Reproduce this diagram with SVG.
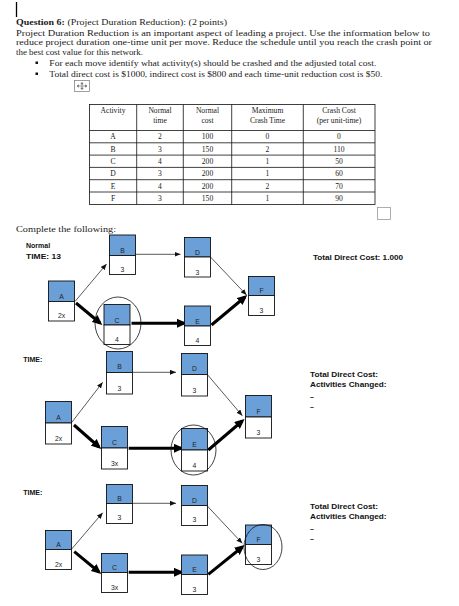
<svg xmlns="http://www.w3.org/2000/svg" width="459" height="606" viewBox="0 0 459 606">
<style>
.body{font-family:"Liberation Serif","DejaVu Serif",serif;font-size:9.2px;fill:#1a1a1a}
.tb{font-family:"Liberation Serif","DejaVu Serif",serif;font-size:7.6px;fill:#1a1a1a;text-anchor:middle}
.grid{stroke:#111;stroke-width:0.8;fill:none}
.top{fill:#6b9fd7;stroke:#111;stroke-width:0.9}
.bot{fill:#fff;stroke:#111;stroke-width:0.9}
.lbl{font-family:"Liberation Sans",Arial,sans-serif;font-size:6.8px;fill:#222;text-anchor:middle}
.side{font-family:"Liberation Sans",Arial,sans-serif;font-size:7px;font-weight:bold;fill:#111}
.thin{stroke:#111;stroke-width:0.7;fill:none;marker-end:url(#ah)}
.thick{stroke:#000;stroke-width:3;fill:none;marker-end:url(#ahb)}
.ring{fill:none;stroke:#111;stroke-width:0.8}
</style>
<defs>
<marker id="ah" markerUnits="userSpaceOnUse" markerWidth="6" markerHeight="5" refX="6" refY="2.5" orient="auto"><path d="M0,0 L6,2.5 L0,5 z" fill="#111"/></marker>
<marker id="ahb" markerUnits="userSpaceOnUse" markerWidth="10" markerHeight="9" refX="7" refY="4.5" orient="auto"><path d="M0,0 L10,4.5 L0,9 z" fill="#000"/></marker>
</defs>
<rect width="459" height="606" fill="#fff"/>

<!-- header text -->
<line x1="16.5" y1="2" x2="16.5" y2="17" stroke="#000" stroke-width="1.3"/>
<text class="body" x="16" y="24.5" textLength="211" lengthAdjust="spacingAndGlyphs"><tspan font-weight="bold">Question 6:</tspan> (Project Duration Reduction): (2 points)</text>
<text class="body" x="16" y="35.5" textLength="414" lengthAdjust="spacingAndGlyphs">Project Duration Reduction is an important aspect of leading a project. Use the information below to</text>
<text class="body" x="16" y="45.3" textLength="416" lengthAdjust="spacingAndGlyphs">reduce project duration one-time unit per move. Reduce the schedule until you reach the crash point or</text>
<text class="body" x="16" y="55" textLength="127" lengthAdjust="spacingAndGlyphs">the best cost value for this network.</text>
<rect x="35.5" y="61.5" width="2.5" height="2.5" fill="#111"/>
<text class="body" x="49.3" y="65.8" textLength="327" lengthAdjust="spacingAndGlyphs">For each move identify what activity(s) should be crashed and the adjusted total cost.</text>
<rect x="35.5" y="72.5" width="2.5" height="2.5" fill="#111"/>
<text class="body" x="49.3" y="76.8" textLength="333" lengthAdjust="spacingAndGlyphs">Total direct cost is $1000, indirect cost is $800 and each time-unit reduction cost is $50.</text>
<g id="move-icon" stroke="#777" stroke-width="0.7" fill="none">
<rect x="74.5" y="80.5" width="15" height="11" fill="#fff"/>
<path d="M77,86 H87 M82,82.5 V89.5"/>
<path d="M77,86 l1.5,-1.2 v2.4 z M87,86 l-1.5,-1.2 v2.4 z M82,82.5 l-1.2,1.5 h2.4 z M82,89.5 l-1.2,-1.5 h2.4 z" fill="#777"/>
</g>

<!-- table -->
<g id="table">
<rect class="grid" x="89.5" y="104.5" width="285.5" height="100"/>
<path class="grid" d="M136.7,104.5 V204.5 M183.3,104.5 V204.5 M231.7,104.5 V204.5 M303.3,104.5 V204.5 M89.5,130.5 H375 M89.5,142.8 H375 M89.5,155.1 H375 M89.5,167.4 H375 M89.5,179.7 H375 M89.5,192 H375"/>
<text class="tb" x="113" y="112.8">Activity</text>
<text class="tb" x="160" y="112.8">Normal</text><text class="tb" x="160" y="123.3">time</text>
<text class="tb" x="207.5" y="112.8">Normal</text><text class="tb" x="207.5" y="123.3">cost</text>
<text class="tb" x="267.5" y="112.8">Maximum</text><text class="tb" x="267.5" y="123.3">Crash Time</text>
<text class="tb" x="339" y="112.8">Crash Cost</text><text class="tb" x="339" y="123.3">(per unit-time)</text>
<g>
<text class="tb" x="113" y="139.3">A</text><text class="tb" x="160" y="139.3">2</text><text class="tb" x="207.5" y="139.3">100</text><text class="tb" x="267.5" y="139.3">0</text><text class="tb" x="339" y="139.3">0</text>
<text class="tb" x="113" y="151.6">B</text><text class="tb" x="160" y="151.6">3</text><text class="tb" x="207.5" y="151.6">150</text><text class="tb" x="267.5" y="151.6">2</text><text class="tb" x="339" y="151.6">110</text>
<text class="tb" x="113" y="163.9">C</text><text class="tb" x="160" y="163.9">4</text><text class="tb" x="207.5" y="163.9">200</text><text class="tb" x="267.5" y="163.9">1</text><text class="tb" x="339" y="163.9">50</text>
<text class="tb" x="113" y="176.2">D</text><text class="tb" x="160" y="176.2">3</text><text class="tb" x="207.5" y="176.2">200</text><text class="tb" x="267.5" y="176.2">1</text><text class="tb" x="339" y="176.2">60</text>
<text class="tb" x="113" y="188.5">E</text><text class="tb" x="160" y="188.5">4</text><text class="tb" x="207.5" y="188.5">200</text><text class="tb" x="267.5" y="188.5">2</text><text class="tb" x="339" y="188.5">70</text>
<text class="tb" x="113" y="200.8">F</text><text class="tb" x="160" y="200.8">3</text><text class="tb" x="207.5" y="200.8">150</text><text class="tb" x="267.5" y="200.8">1</text><text class="tb" x="339" y="200.8">90</text>
</g>
</g>
<rect x="377.5" y="207.5" width="13" height="12" fill="#fff" stroke="#999" stroke-width="0.8"/>

<text class="body" x="16" y="231.5" textLength="100" lengthAdjust="spacingAndGlyphs">Complete the following:</text>

<!-- ===== Network 1 ===== -->
<text class="side" x="26" y="248">Normal</text>
<text class="side" x="26" y="259" textLength="35" lengthAdjust="spacingAndGlyphs">TIME:  13</text>
<text class="side" x="313" y="260" textLength="90" lengthAdjust="spacingAndGlyphs">Total Direct  Cost:  1.000</text>

<g id="n1-connectors">
<line class="thin" x1="75" y1="301.5" x2="106.5" y2="264"/>
<line class="thin" x1="135.5" y1="254.3" x2="180.5" y2="254.3"/>
<line class="thin" x1="210.5" y1="257" x2="246.5" y2="295"/>
<line class="thick" x1="76" y1="303" x2="100" y2="323"/>
<line class="thick" x1="131.5" y1="323.3" x2="184" y2="323.3"/>
<line class="thick" x1="211.5" y1="325" x2="245" y2="297"/>
</g>
<g id="n1-A"><rect class="top" x="48.5" y="281" width="26" height="20.5"/><rect class="bot" x="48.5" y="301.5" width="26" height="19.5"/><text class="lbl" x="61.5" y="299">A</text><text class="lbl" x="61.5" y="318">2x</text></g>
<g id="n1-B"><rect class="top" x="109.5" y="235" width="26" height="20.5"/><rect class="bot" x="109.5" y="255.5" width="26" height="19"/><text class="lbl" x="122.5" y="253">B</text><text class="lbl" x="122.5" y="272">3</text></g>
<g id="n1-C"><rect class="top" x="104" y="304.5" width="26" height="20.5"/><rect class="bot" x="104" y="325" width="26" height="19.5"/><text class="lbl" x="117" y="322.5">C</text><text class="lbl" x="117" y="342">4</text></g>
<g id="n1-D"><rect class="top" x="184.5" y="237.5" width="26" height="19.5"/><rect class="bot" x="184.5" y="257" width="26" height="20"/><text class="lbl" x="197.5" y="255">D</text><text class="lbl" x="197.5" y="274.5">3</text></g>
<g id="n1-E"><rect class="top" x="184.5" y="306" width="26" height="20"/><rect class="bot" x="184.5" y="326" width="26" height="19.5"/><text class="lbl" x="197.5" y="324">E</text><text class="lbl" x="197.5" y="343">4</text></g>
<g id="n1-F"><rect class="top" x="248.5" y="276.5" width="26" height="19"/><rect class="bot" x="248.5" y="295.5" width="26" height="20"/><text class="lbl" x="261.5" y="293">F</text><text class="lbl" x="261.5" y="313">3</text></g>
<ellipse class="ring" cx="118" cy="323" rx="23" ry="26"/>

<!-- ===== Network 2 ===== -->
<text class="side" x="23.3" y="361.5">TIME:</text>
<text class="side" x="310" y="376.5" textLength="68" lengthAdjust="spacingAndGlyphs">Total Direct  Cost:</text>
<text class="side" x="310" y="386.5" textLength="76.5" lengthAdjust="spacingAndGlyphs">Activities  Changed:</text>
<text class="side" x="310" y="399">–</text>
<text class="side" x="310" y="409">–</text>

<g id="n2-connectors">
<line class="thin" x1="71.5" y1="422.7" x2="102.7" y2="382.3"/>
<line class="thin" x1="132.3" y1="372.3" x2="176" y2="372.3"/>
<line class="thin" x1="207.3" y1="374.5" x2="242.3" y2="415.7"/>
<line class="thick" x1="74" y1="425" x2="99" y2="447"/>
<line class="thick" x1="128.7" y1="448.3" x2="181" y2="448.3"/>
<line class="thick" x1="208.3" y1="450" x2="242.3" y2="421"/>
</g>
<g id="n2-A"><rect class="top" x="45.5" y="401.5" width="26" height="21.5"/><rect class="bot" x="45.5" y="423" width="26" height="21"/><text class="lbl" x="58.5" y="420">A</text><text class="lbl" x="58.5" y="441">2x</text></g>
<g id="n2-B"><rect class="top" x="106.5" y="351.5" width="26" height="21"/><rect class="bot" x="106.5" y="372.5" width="26" height="21.5"/><text class="lbl" x="119.5" y="368.5">B</text><text class="lbl" x="119.5" y="390.5">3</text></g>
<g id="n2-C"><rect class="top" x="101.5" y="426.5" width="26" height="21.5"/><rect class="bot" x="101.5" y="448" width="26" height="21"/><text class="lbl" x="114.5" y="444.5">C</text><text class="lbl" x="114.5" y="466">3x</text></g>
<g id="n2-D"><rect class="top" x="181.5" y="353.5" width="26" height="21"/><rect class="bot" x="181.5" y="374.5" width="26" height="21.5"/><text class="lbl" x="194.5" y="370.5">D</text><text class="lbl" x="194.5" y="392.5">3</text></g>
<g id="n2-E"><rect class="top" x="181.5" y="428.5" width="26" height="21.5"/><rect class="bot" x="181.5" y="450" width="26" height="21"/><text class="lbl" x="194.5" y="446.5">E</text><text class="lbl" x="194.5" y="468">4</text></g>
<g id="n2-F"><rect class="top" x="245.5" y="395.5" width="26" height="21.5"/><rect class="bot" x="245.5" y="417" width="26" height="21"/><text class="lbl" x="258.5" y="413.5">F</text><text class="lbl" x="258.5" y="435">3</text></g>
<ellipse class="ring" cx="193.5" cy="450" rx="22.5" ry="25"/>

<!-- ===== Network 3 ===== -->
<text class="side" x="23.3" y="495">TIME:</text>
<text class="side" x="310" y="508.5" textLength="68" lengthAdjust="spacingAndGlyphs">Total Direct  Cost:</text>
<text class="side" x="310" y="518.5" textLength="76.5" lengthAdjust="spacingAndGlyphs">Activities  Changed:</text>
<text class="side" x="310" y="531">–</text>
<text class="side" x="310" y="541">–</text>

<g id="n3-connectors">
<line class="thin" x1="71.7" y1="549" x2="102.7" y2="512.7"/>
<line class="thin" x1="132.3" y1="503.3" x2="176" y2="503.3"/>
<line class="thin" x1="207.3" y1="506" x2="242.3" y2="543.3"/>
<line class="thick" x1="74.3" y1="551.7" x2="99" y2="572"/>
<line class="thick" x1="128.7" y1="572.3" x2="181" y2="572.3"/>
<line class="thick" x1="208.3" y1="574.3" x2="242.3" y2="547"/>
</g>
<g id="n3-A"><rect class="top" x="45.5" y="530.5" width="26" height="19"/><rect class="bot" x="45.5" y="549.5" width="26" height="20"/><text class="lbl" x="58.5" y="547">A</text><text class="lbl" x="58.5" y="567">2x</text></g>
<g id="n3-B"><rect class="top" x="106.5" y="484.5" width="26" height="19"/><rect class="bot" x="106.5" y="503.5" width="26" height="20"/><text class="lbl" x="119.5" y="501">B</text><text class="lbl" x="119.5" y="520">3</text></g>
<g id="n3-C"><rect class="top" x="101.5" y="553.5" width="26" height="19"/><rect class="bot" x="101.5" y="572.5" width="26" height="20"/><text class="lbl" x="114.5" y="570">C</text><text class="lbl" x="114.5" y="590">3x</text></g>
<g id="n3-D"><rect class="top" x="181.5" y="485.5" width="26" height="20"/><rect class="bot" x="181.5" y="505.5" width="26" height="20"/><text class="lbl" x="194.5" y="503">D</text><text class="lbl" x="194.5" y="522">3</text></g>
<g id="n3-E"><rect class="top" x="181.5" y="555" width="26" height="19.5"/><rect class="bot" x="181.5" y="574.5" width="26" height="20"/><text class="lbl" x="194.5" y="572">E</text><text class="lbl" x="194.5" y="591.5">3</text></g>
<g id="n3-F"><rect class="top" x="245.5" y="525" width="26" height="19.5"/><rect class="bot" x="245.5" y="544.5" width="26" height="20"/><text class="lbl" x="258.5" y="542">F</text><text class="lbl" x="258.5" y="561.5">3</text></g>
<ellipse class="ring" cx="263" cy="547" rx="19" ry="22.5"/>
</svg>
